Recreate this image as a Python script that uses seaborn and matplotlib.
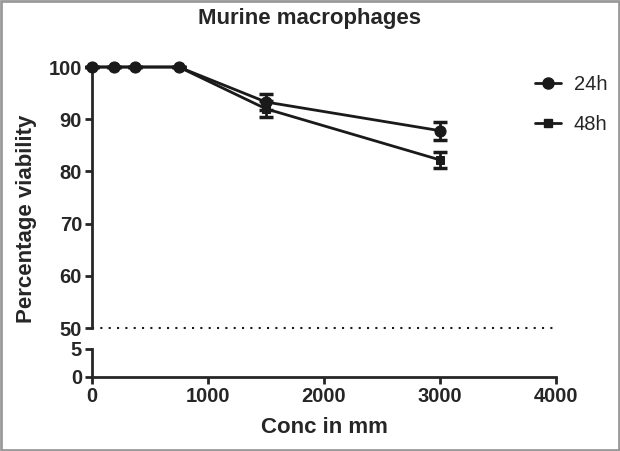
import matplotlib
matplotlib.use('Agg')
import matplotlib.pyplot as plt
import seaborn as sns
import pandas as pd

conc = [0, 187.5, 375, 750, 1500, 3000]
viab_24h = [100, 100, 100, 100, 93.3, 87.8]
err_24h = [0, 0, 0, 0, 1.5, 1.7]
viab_48h = [100, 100, 100, 100, 92.0, 82.2]
err_48h = [0, 0, 0, 0, 1.5, 1.5]
series = ['24h', '48h']
markers = {'24h': 'o', '48h': 's'}
msize = {'24h': 8, '48h': 5.5}

df = pd.concat([
    pd.DataFrame({'Conc': conc, 'Viability': viab_24h, 'err': err_24h, 'Time': '24h'}),
    pd.DataFrame({'Conc': conc, 'Viability': viab_48h, 'err': err_48h, 'Time': '48h'}),
])

sns.set_style("ticks")
plt.rcParams['font.family'] = ['Liberation Sans', 'DejaVu Sans']

fig = plt.figure(figsize=(6.2, 4.51), dpi=100)
ax = fig.add_axes([0.148, 0.2727, 0.749, 0.5787])
ax2 = fig.add_axes([0.148, 0.1641, 0.749, 0.0621])

ink = '#1a1a1a'
sns.lineplot(data=df, x='Conc', y='Viability', hue='Time', style='Time',
             markers=markers, dashes=False, palette=[ink, ink],
             markersize=8, linewidth=2, markeredgecolor=ink, ax=ax,
             clip_on=False, zorder=3, legend=False)
# seaborn gives one Line2D per series, in order
for line, s in zip(ax.lines, series):
    line.set_markersize(msize[s])
for s in series:
    d = df[df['Time'] == s]
    ax.errorbar(d['Conc'], d['Viability'], yerr=d['err'], fmt='none',
                ecolor=ink, elinewidth=2, capsize=5, capthick=2.5,
                clip_on=False, zorder=4)

ax.set_xlim(0, 4000)
ax.set_ylim(50, 100)
ax.set_yticks([50, 60, 70, 80, 90, 100])
ax.tick_params(axis='y', labelsize=14.5, width=2, length=5, pad=2)
ax.tick_params(axis='x', bottom=False, labelbottom=False)
for lab in ax.get_yticklabels():
    lab.set_fontweight('bold')
ax.spines['top'].set_visible(False)
ax.spines['right'].set_visible(False)
ax.spines['bottom'].set_visible(False)
ax.spines['left'].set_linewidth(2)
ax.axhline(50, color=ink, linestyle=(0, (1, 3)), linewidth=1.5, clip_on=False)
ax.set_xlabel('')
ax.set_ylabel('Percentage viability', fontsize=16, fontweight='bold')
ax.yaxis.set_label_coords(-0.118, 0.42)
fig.text(0.5, 0.958, 'Murine macrophages', fontsize=16, fontweight='bold',
         ha='center', va='center')

handles = [plt.Line2D([], [], color=ink, lw=2, marker=markers[s], markersize=msize[s])
           for s in series]
leg = ax.legend(handles, series, loc='upper left', bbox_to_anchor=(0.955, 0.97),
                frameon=False, fontsize=14.5, handlelength=1.3, handletextpad=0.6,
                labelspacing=1.05, borderaxespad=0, borderpad=0)

ax2.set_xlim(0, 4000)
ax2.set_ylim(0, 5)
ax2.set_yticks([0, 5])
ax2.set_xticks([0, 1000, 2000, 3000, 4000])
ax2.tick_params(axis='both', labelsize=14.5, width=2, length=5, pad=2)
for lab in ax2.get_yticklabels() + ax2.get_xticklabels():
    lab.set_fontweight('bold')
ax2.spines['top'].set_visible(False)
ax2.spines['right'].set_visible(False)
ax2.spines['left'].set_linewidth(2)
ax2.spines['bottom'].set_linewidth(2)
ax2.set_xlabel('Conc in mm', fontsize=16, fontweight='bold', labelpad=8)

fig.patches.append(plt.Rectangle((0.002, 0.002), 0.996, 0.996, transform=fig.transFigure,
                                 fill=False, edgecolor='#999999', linewidth=2))

fig.savefig('out.png', dpi=100)
